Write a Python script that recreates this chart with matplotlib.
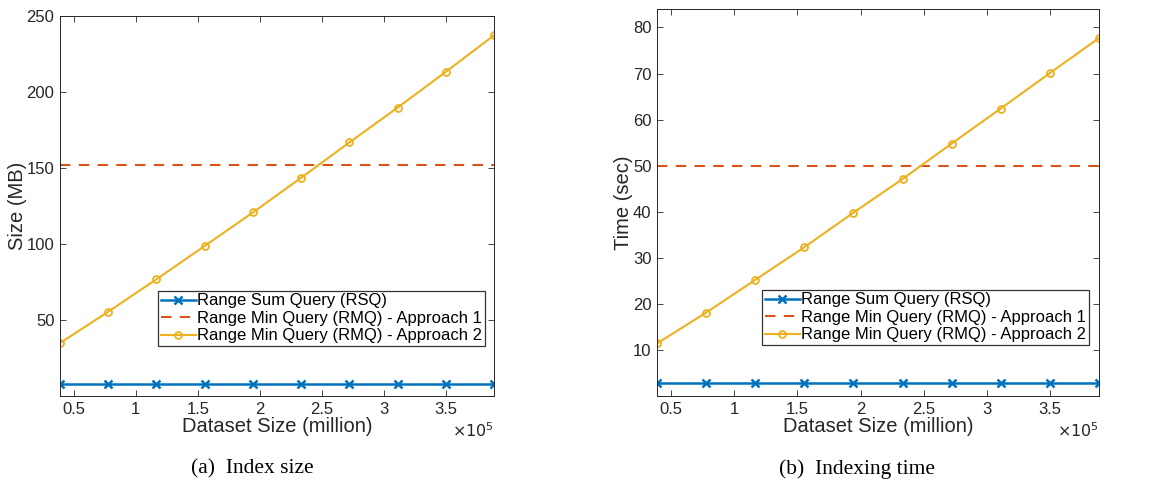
import matplotlib
matplotlib.use("Agg")
import matplotlib.pyplot as plt
from matplotlib.ticker import FuncFormatter

plt.rcParams['font.family'] = ['Liberation Sans', 'DejaVu Sans']

# dataset sizes (x-axis, raw units; shown as x10^5)
sizes = [38880, 77760, 116640, 155520, 194400, 233280, 272160, 311040, 349920, 388800]

# (a) index size in MB
size_rsq = [8.2] * 10
size_rmq1 = [152.4] * 10
size_rmq2 = [35.1, 55.7, 77.0, 98.9, 120.9, 143.7, 166.9, 189.8, 213.3, 237.3]

# (b) indexing time in sec
time_rsq = [2.8] * 10
time_rmq1 = [50.0] * 10
time_rmq2 = [11.4, 18.1, 25.2, 32.3, 39.8, 47.1, 54.8, 62.4, 70.1, 77.7]

labels = ['Range Sum Query (RSQ)',
          'Range Min Query (RMQ) - Approach 1',
          'Range Min Query (RMQ) - Approach 2']
xticks = [0.5e5, 1e5, 1.5e5, 2e5, 2.5e5, 3e5, 3.5e5]

blue = '#0072BD'
red = '#D95319'
yellow = '#EDB120'
axcol = '#262626'

fig = plt.figure(figsize=(11.6, 4.84), dpi=100)
W, H = 1160.0, 484.0


def draw(ax, rsq, rmq1, rmq2, ylim, yticks, ylabel, caption, capx, legx):
    ax.plot(sizes, rsq, color=blue, lw=1.8, marker='x', ms=6, mew=1.8, label=labels[0])
    ax.plot(sizes, rmq1, color=red, lw=1.5, ls=(0, (5, 4)), label=labels[1])
    ax.plot(sizes, rmq2, color=yellow, lw=1.5, marker='o', ms=5, mfc='none',
            mew=1.3, label=labels[2])
    ax.set_xlim(sizes[0], sizes[-1])
    ax.set_ylim(*ylim)
    ax.set_yticks(yticks)
    ax.set_xticks(xticks)
    ax.xaxis.set_major_formatter(FuncFormatter(lambda v, p: ('%g' % (v / 1e5))))
    ax.tick_params(direction='in', length=4, width=0.6, colors=axcol,
                   labelsize=12, top=True, right=True, pad=4)
    for s in ax.spines.values():
        s.set_color(axcol)
        s.set_linewidth(0.7)
    ax.set_ylabel(ylabel, fontsize=14.5, color=axcol, labelpad=0)
    ax.set_xlabel('Dataset Size (million)', fontsize=14.5, color=axcol, labelpad=0)
    ax.text(1.0, -0.09, r'$\times10^{5}$', transform=ax.transAxes, ha='right',
            va='center', fontsize=11.5, color=axcol)
    leg = ax.legend(loc='lower right', bbox_to_anchor=(legx, 0.132), fontsize=12,
                    frameon=True, fancybox=False, handlelength=2.1, handletextpad=0.1,
                    borderpad=0.15, labelspacing=0.15, borderaxespad=0)
    leg.get_frame().set_edgecolor('black')
    leg.get_frame().set_linewidth(0.9)
    for t in leg.get_texts():
        t.set_color('black')
    fig.text(capx / W, 1 - 469 / H, caption, ha='center', va='center',
             fontsize=15.5, family='Liberation Serif')


ax1 = fig.add_axes([60 / W, 88 / H, 434 / W, 380 / H])
draw(ax1, size_rsq, size_rmq1, size_rmq2, (0.3, 250), [50, 100, 150, 200, 250],
     'Size (MB)', '(a)  Index size', 252, 0.979)

ax2 = fig.add_axes([657 / W, 88 / H, 442 / W, 387 / H])
draw(ax2, time_rsq, time_rmq1, time_rmq2, (0, 84), [10, 20, 30, 40, 50, 60, 70, 80],
     'Time (sec)', '(b)  Indexing time', 857, 0.977)

fig.savefig('out.png', dpi=100)
